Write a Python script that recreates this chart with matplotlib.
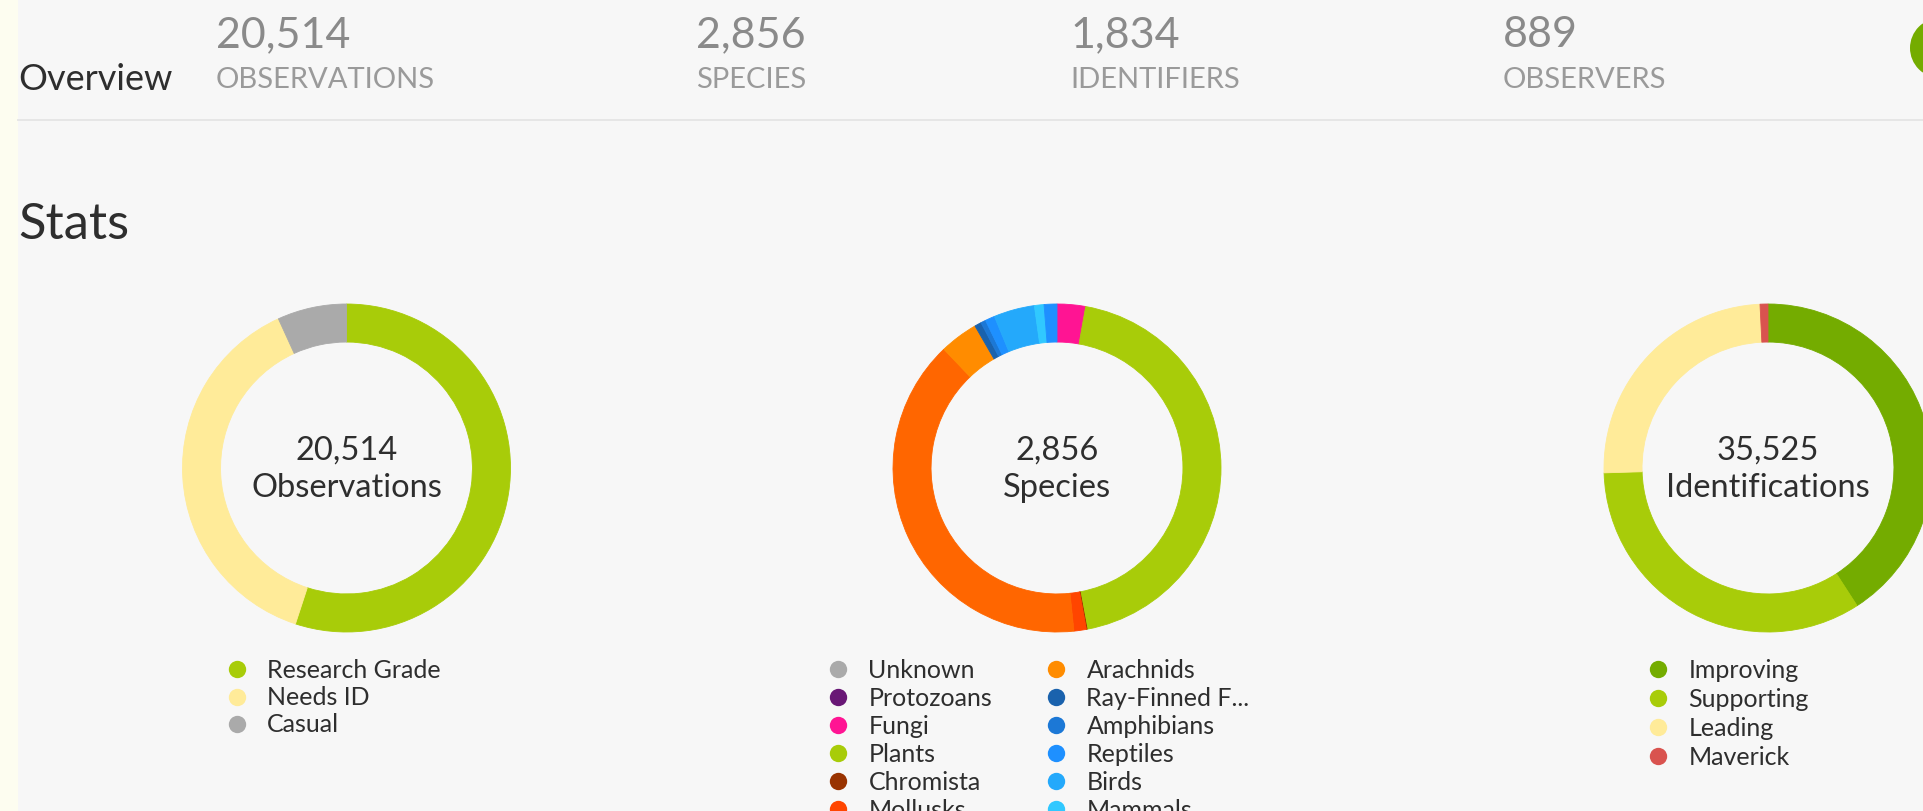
import matplotlib
matplotlib.use("Agg")
import matplotlib.pyplot as plt
from matplotlib.lines import Line2D
from matplotlib.patches import Rectangle, Ellipse

plt.rcParams['font.family'] = ['Lato', 'DejaVu Sans']

# ---------------- data ----------------
overview_values = [20514, 2856, 1834, 889]
overview_labels = ["OBSERVATIONS", "SPECIES", "IDENTIFIERS", "OBSERVERS"]

obs_labels = ["Research Grade", "Needs ID", "Casual"]
obs_counts = [11290, 7826, 1398]
obs_colors = ["#a8cc09", "#ffeb99", "#aaaaaa"]

species_labels = ["Unknown", "Protozoans", "Fungi", "Plants", "Chromista", "Mollusks", "Insects",
                  "Arachnids", "Ray-Finned Fishes", "Amphibians", "Reptiles", "Birds", "Mammals", "Animals"]
species_counts = [0, 0, 80, 1264, 2, 35, 1129, 108, 19, 14, 27, 115, 27, 36]
species_colors = ["#aaaaaa", "#691776", "#ff1493", "#a8cc09", "#993300", "#ff4500", "#ff6600",
                  "#ff8c00", "#1a62ad", "#1c78d6", "#1e90ff", "#24a9fb", "#30c8ff", "#1e90ff"]

ident_labels = ["Improving", "Supporting", "Leading", "Maverick"]
ident_counts = [14516, 11960, 8773, 276]
ident_colors = ["#74ac00", "#a8cc09", "#ffeb99", "#d9534f"]

center_titles = ["Observations", "Species", "Identifications"]

# ---------------- layout ----------------
W, H = 1924, 811
BG = "#f7f7f7"
DARK = "#2e2e2e"


def fx(x):
    return x / W


def fy(y):
    return 1 - y / H


def short(s, n=14):
    return s if len(s) <= n else s[:12] + "..."


fig = plt.figure(figsize=(W / 100, H / 100), dpi=100)
fig.patch.set_facecolor(BG)

# cream strip on the left
fig.add_artist(Rectangle((0, 0), fx(18), 1, transform=fig.transFigure,
                         facecolor="#fdfdf0", edgecolor="none"))

# overview row
fig.text(fx(18), fy(90), "Overview", fontsize=26, color=DARK, ha="left", va="baseline")
overview_x = [216, 696, 1070, 1503]
for x, v, lab in zip(overview_x, overview_values, overview_labels):
    fig.text(fx(x), fy(47), f"{v:,}", fontsize=31, color="#8a8a8a", ha="left", va="baseline")
    fig.text(fx(x), fy(88.5), lab, fontsize=21, color="#9a9a9a", ha="left", va="baseline")

# avatar circle (top right, cropped)
fig.add_artist(Ellipse((fx(1940), fy(48)), 60 / W, 60 / H, transform=fig.transFigure,
                       facecolor="#74ac00", edgecolor="none"))

# separator
fig.add_artist(Line2D([fx(18), 1], [fy(120), fy(120)], transform=fig.transFigure,
                      color="#e6e6e6", linewidth=1.4))

# Stats heading
fig.text(fx(18), fy(239), "Stats", fontsize=36.5, color=DARK, ha="left", va="baseline")

# ---------------- donuts ----------------
R = 164
CY = 468
donut_cx = [346.5, 1057, 1768]
ring = 0.232

series = [(obs_counts, obs_colors), (species_counts, species_colors), (ident_counts, ident_colors)]
for cx, (vals, cols), title in zip(donut_cx, series, center_titles):
    ax = fig.add_axes([fx(cx - R), fy(CY + R), 2 * R / W, 2 * R / H])
    wedges, _ = ax.pie(vals, colors=cols, radius=1, startangle=90, counterclock=False,
                       wedgeprops=dict(width=ring, linewidth=0))
    for w, v in zip(wedges, vals):
        if v > 0:
            w.set_edgecolor(w.get_facecolor())
            w.set_linewidth(0.6)
    ax.set_xlim(-1, 1)
    ax.set_ylim(-1, 1)
    ax.set_aspect("equal")
    ax.axis("off")
    fig.text(fx(cx), fy(460), f"{sum(vals):,}", fontsize=23.5, color=DARK, ha="center", va="baseline")
    fig.text(fx(cx), fy(497), title, fontsize=23.5, color=DARK, ha="center", va="baseline")

# ---------------- legends ----------------
LFS = 18
lfs_px = LFS * 100 / 72


def add_legend(labels, colors, x_marker, y_top, spacing):
    handles = [Line2D([], [], linestyle="none", marker="o", markersize=12.5,
                      markerfacecolor=c, markeredgecolor=c, markeredgewidth=0) for c in colors]
    leg = fig.legend(handles, [short(l) for l in labels], loc="upper left",
                     bbox_to_anchor=(fx(x_marker - lfs_px * 0.5), fy(y_top)),
                     bbox_transform=fig.transFigure, frameon=False, borderpad=0,
                     borderaxespad=0, handlelength=1.0,
                     handletextpad=(30 - lfs_px * 0.5) / lfs_px,
                     labelspacing=spacing, fontsize=LFS, labelcolor=DARK)
    return leg


add_legend(obs_labels, obs_colors, 237, 659, 0.17)
add_legend(species_labels[:7], species_colors[:7], 838.5, 659, 0.20)
add_legend(species_labels[7:], species_colors[7:], 1056.5, 659, 0.20)
add_legend(ident_labels, ident_colors, 1658.5, 659, 0.235)

fig.savefig("out.png", dpi=100, facecolor=fig.get_facecolor())
